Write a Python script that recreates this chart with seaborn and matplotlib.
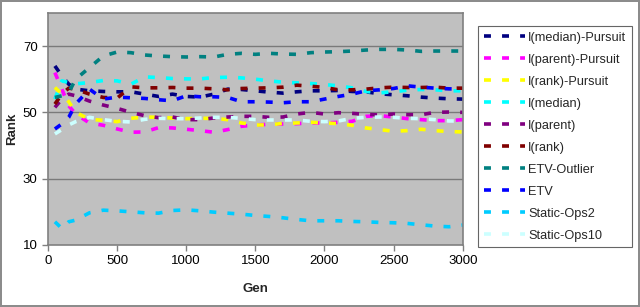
import numpy as np
import pandas as pd
import matplotlib
matplotlib.use("Agg")
import matplotlib.pyplot as plt
import seaborn as sns

gens = [50, 100, 150, 200, 300, 400, 500, 600, 700, 800, 900, 1000, 1100, 1200,
        1300, 1400, 1500, 1600, 1700, 1800, 1900, 2000, 2100, 2200, 2300, 2400,
        2500, 2600, 2700, 2800, 2900, 3000]

median_pursuit = [64, 61, 58.5, 57, 56.5, 56.3, 56.2, 56.2, 55.5, 54.8, 55.5, 54.8, 54.6, 55.5,
                  57, 56.9, 56.5, 56.1, 55.8, 56.2, 56.5, 56.5, 56.6, 56.3, 56.2, 55.6,
                  55.3, 55, 54.6, 54.3, 54.1, 54]
parent_pursuit = [62, 57, 52, 49.5, 46.8, 46.1, 45, 44, 44.1, 45.4, 45.3, 44.9, 44.5, 44,
                  44.8, 45.8, 46.2, 46.4, 46.5, 46.6, 46.8, 46.8, 47, 47.3, 48.8, 49,
                  48.6, 48.1, 47.8, 47.5, 47.5, 47.8]
rank_pursuit = [57.5, 55.5, 53.2, 50, 47.9, 47.6, 47.2, 48.2, 48.6, 48.5, 48.3, 48.1, 48.2, 48.2,
                47.8, 46.8, 46.2, 46.2, 46.7, 46.8, 47, 46.8, 46.6, 46.1, 45.3, 44.8,
                44.3, 44.5, 44.9, 44.5, 44.2, 44.1]
i_median = [54, 59.5, 59, 58.6, 59, 59.6, 59.5, 58.5, 60.7, 60.5, 60.2, 60.1, 60.1, 60.5,
            60.6, 60.4, 60, 59.5, 59.1, 58.9, 58.7, 58.4, 58, 57.4, 56.3, 55.9,
            56.2, 56.7, 56.9, 56.8, 56.5, 56.5]
i_parent = [51.5, 54, 55.5, 55, 53.4, 52.2, 51.2, 50, 49, 48.4, 48.6, 47.8, 47.8, 48.3,
            48.6, 48.8, 48.8, 48.5, 48.6, 49.5, 50, 49.5, 49.9, 49.7, 49.4, 49.2,
            49.5, 49.3, 49.3, 50, 50.1, 50]
i_rank = [52.5, 55.5, 57.3, 57, 55.5, 54.5, 54.3, 57.7, 57.4, 57.4, 57.5, 57.3, 57.3, 57.1,
          56.8, 57.2, 57.3, 57.4, 57.6, 58.2, 57.9, 57.5, 56.8, 56.8, 57, 57.4,
          57.6, 57.5, 57.5, 57.6, 57.3, 57.3]
etv_outlier = [54.5, 55, 56, 60, 63.5, 67, 68.2, 68, 67.3, 67, 66.8, 66.7, 66.8, 66.7,
               67.5, 67.8, 67.5, 67.8, 67.6, 67.5, 68, 68.2, 68.3, 68.5, 68.8, 69,
               69, 68.8, 68.4, 68.5, 68.5, 68.5]
etv = [45, 46.5, 48.5, 52.5, 57, 54, 54.6, 54.4, 54.2, 53.8, 53.5, 55, 54.7, 54.7,
       54.5, 53.2, 53.2, 53.1, 52.9, 53.2, 53.2, 54, 54.8, 55.5, 56.5, 56.8,
       57.2, 58, 57.6, 57.3, 57.1, 57]
static_ops2 = [17, 15, 17, 17.5, 19.7, 20.5, 20.3, 20, 19.7, 19.6, 20.4, 20.6, 20.3, 19.9,
               19.6, 19.3, 18.9, 18.6, 18.2, 17.7, 17.3, 17.3, 17.3, 17.1, 17, 16.8,
               16.7, 16.5, 16.1, 15.7, 15.5, 16]
static_ops10 = [43.5, 44.8, 46.2, 47.2, 48.5, 47.8, 47.3, 47.1, 47.9, 48.2, 48.1, 48.1, 48.3, 48.5,
                48.5, 48.2, 47.8, 47.7, 47.7, 47.7, 47.3, 47.2, 47.4, 48.2, 48.5, 48.6,
                48.5, 48.2, 48.1, 47.8, 47.4, 47.4]

labels = ["I(median)-Pursuit", "I(parent)-Pursuit", "I(rank)-Pursuit", "I(median)",
          "I(parent)", "I(rank)", "ETV-Outlier", "ETV", "Static-Ops2", "Static-Ops10"]
series = [median_pursuit, parent_pursuit, rank_pursuit, i_median, i_parent, i_rank,
          etv_outlier, etv, static_ops2, static_ops10]
colors = ["#000080", "#FF00FF", "#FFFF00", "#00FFFF", "#800080", "#800000",
          "#008080", "#0000FF", "#00CCFF", "#CCFFFF"]

sns.set_style("ticks")
plt.rcParams["font.family"] = ["Liberation Sans", "DejaVu Sans"]
plt.rcParams["lines.scale_dashes"] = False

fig = plt.figure(figsize=(6.4, 3.07), dpi=100)
fig.patch.set_facecolor("white")
fig.patch.set_edgecolor("#8c8c8c")
fig.patch.set_linewidth(1.5)
ax = fig.add_axes([0.075, 0.202, 0.648, 0.756])
ax.set_facecolor("#C0C0C0")

for name, vals, col in zip(labels, series, colors):
    sns.lineplot(x=gens, y=vals, ax=ax, color=col, label=name,
                 linewidth=2.6, linestyle=(0, (5, 8)))

ax.set_xlim(0, 3000)
ax.set_ylim(10, 80)
ax.set_xticks(range(0, 3001, 500))
ax.set_yticks([10, 30, 50, 70])
for y in [30, 50, 70]:
    ax.axhline(y, color="#7a7a7a", linewidth=1.0, zorder=0.5)
for s in ax.spines.values():
    s.set_color("#808080")
    s.set_linewidth(1.2)
ax.tick_params(axis="both", labelsize=9.5, color="#808080", length=4, width=1,
               colors="black")
ax.tick_params(axis="both", color="#808080")
ax.set_xlabel("Gen", fontsize=9.5, fontweight="bold", labelpad=11)
ax.set_ylabel("Rank", fontsize=9.5, fontweight="bold", labelpad=3)

leg = ax.legend(loc="upper left", bbox_to_anchor=(0.747, 0.915), bbox_transform=fig.transFigure,
                fontsize=9.2, frameon=True, fancybox=False, edgecolor="#404040",
                handlelength=3.2, handletextpad=0.25, labelspacing=0.78,
                borderpad=0.45, borderaxespad=0)
leg.get_frame().set_linewidth(0.8)
for line in leg.get_lines():
    line.set_linewidth(2.6)

fig.savefig("out.png", dpi=100)
